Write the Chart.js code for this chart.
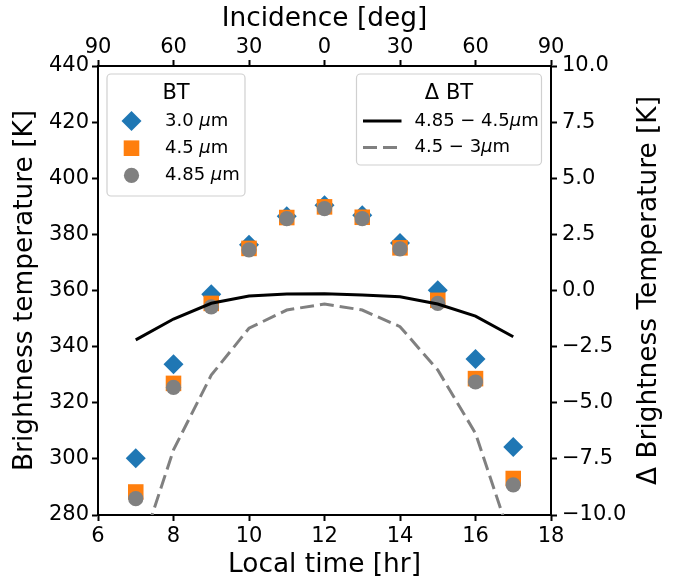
<!DOCTYPE html>
<html>
<head>
<meta charset="utf-8">
<script src="https://cdn.jsdelivr.net/npm/chart.js@4/dist/chart.umd.min.js"></script>
<style>
html,body{margin:0;padding:0;background:#fff;}
#wrap{width:675px;height:583px;position:relative;}
</style>
</head>
<body>
<div id="wrap"><canvas id="c" width="675" height="583"></canvas></div>
<script>
// ---- data ----
const localTime = [7, 8, 9, 10, 11, 12, 13, 14, 15, 16, 17];
const bt30  = [300.2, 333.7, 358.7, 376.3, 386.5, 390.4, 386.8, 376.9, 360.1, 335.6, 304.2];
const bt45  = [288.2, 326.9, 355.4, 375.0, 386.0, 389.8, 386.1, 375.2, 356.5, 328.6, 293.0];
const bt485 = [285.8, 325.5, 354.2, 374.5, 385.6, 389.2, 385.6, 374.8, 355.4, 327.4, 290.7];
const dBT_485_45 = [-2.2, -1.27, -0.57, -0.25, -0.16, -0.15, -0.2, -0.28, -0.6, -1.14, -2.06];
const dBT_45_3   = [-12.2, -7.1, -3.77, -1.68, -0.87, -0.6, -0.87, -1.61, -3.54, -6.36, -11.4];
const xTickValues = [6, 8, 10, 12, 14, 16, 18];
const incidenceLabels = ['90', '60', '30', '0', '30', '60', '90'];
const btLabels = ['3.0 μm', '4.5 μm', '4.85 μm'];
const dbtLabels = ['4.85 − 4.5μm', '4.5 − 3μm'];
const btLegendTitle = 'BT';
const dbtLegendTitle = 'Δ BT';
const leftTitle = 'Brightness temperature [K]';
const rightTitle = 'Δ Brightness Temperature [K]';
const bottomTitle = 'Local time [hr]';
const topTitle = 'Incidence [deg]';

const FONT = "'DejaVu Sans', sans-serif";
const toXY = (ys) => localTime.map((x, i) => ({x: x, y: ys[i]}));

function axisGrid() {
  return {display: true, drawOnChartArea: false, drawTicks: true, tickLength: 6,
          tickWidth: 2, tickColor: '#000', color: '#000'};
}
const border = {display: true, color: '#000', width: 2};

function drawMarker(ctx, style, x, y, size, color) {
  ctx.save();
  ctx.fillStyle = color;
  ctx.beginPath();
  if (style === 'diamond') {
    ctx.moveTo(x, y - size); ctx.lineTo(x + size, y); ctx.lineTo(x, y + size); ctx.lineTo(x - size, y);
    ctx.closePath();
  } else if (style === 'square') {
    ctx.rect(x - size, y - size, 2 * size, 2 * size);
  } else {
    ctx.arc(x, y, size, 0, Math.PI * 2);
  }
  ctx.fill();
  ctx.restore();
}

function drawRich(ctx, text, x, y, size) {
  const parts = text.split('μ');
  let cx = x;
  ctx.textBaseline = 'middle';
  ctx.textAlign = 'left';
  ctx.fillStyle = '#000';
  parts.forEach((p, i) => {
    if (i > 0) {
      ctx.font = `italic ${size}px ${FONT}`;
      ctx.fillText('μ', cx, y);
      cx += ctx.measureText('μ').width;
    }
    ctx.font = `${size}px ${FONT}`;
    ctx.fillText(p, cx, y);
    cx += ctx.measureText(p).width;
  });
}

function roundBox(ctx, x, y, w, h, r) {
  ctx.beginPath();
  ctx.moveTo(x + r, y);
  ctx.lineTo(x + w - r, y); ctx.arcTo(x + w, y, x + w, y + r, r);
  ctx.lineTo(x + w, y + h - r); ctx.arcTo(x + w, y + h, x + w - r, y + h, r);
  ctx.lineTo(x + r, y + h); ctx.arcTo(x, y + h, x, y + h - r, r);
  ctx.lineTo(x, y + r); ctx.arcTo(x, y, x + r, y, r);
  ctx.closePath();
  ctx.fillStyle = 'rgba(255,255,255,0.8)';
  ctx.fill();
  ctx.strokeStyle = '#d0d0d0';
  ctx.lineWidth = 1.2;
  ctx.stroke();
}

const extrasPlugin = {
  id: 'extras',
  afterDraw(chart) {
    const ctx = chart.ctx;
    const ca = chart.chartArea;
    const ds = chart.data.datasets;
    ctx.save();
    // BT legend
    const bx = ca.left + 9, by = ca.top + 8, bw = 138, bh = 122;
    roundBox(ctx, bx, by, bw, bh, 4);
    ctx.fillStyle = '#000';
    ctx.font = `21px ${FONT}`;
    ctx.textAlign = 'center'; ctx.textBaseline = 'middle';
    ctx.fillText(btLegendTitle, bx + bw / 2, by + 20);
    const mk = [['diamond', 10], ['square', 7.8], ['circle', 7.6]];
    for (let i = 0; i < 3; i++) {
      const yy = by + 47 + i * 27.2;
      drawMarker(ctx, mk[i][0], bx + 24.5, yy, mk[i][1], ds[i].backgroundColor);
      drawRich(ctx, btLabels[i], bx + 58, yy, 18);
    }
    // dBT legend
    const dw = 185, dh = 91;
    const dx = ca.right - 9.5 - dw, dy = ca.top + 8;
    roundBox(ctx, dx, dy, dw, dh, 4);
    ctx.fillStyle = '#000';
    ctx.font = `21px ${FONT}`;
    ctx.textAlign = 'center'; ctx.textBaseline = 'middle';
    ctx.fillText(dbtLegendTitle, dx + dw / 2, dy + 20);
    for (let i = 0; i < 2; i++) {
      const yy = dy + 47 + i * 26.6;
      const d = ds[3 + i];
      ctx.save();
      ctx.strokeStyle = d.borderColor;
      ctx.lineWidth = d.borderWidth;
      ctx.setLineDash(d.borderDash || []);
      ctx.beginPath();
      ctx.moveTo(dx + 6.5, yy); ctx.lineTo(dx + 45, yy);
      ctx.stroke();
      ctx.restore();
      drawRich(ctx, dbtLabels[i], dx + 58, yy, 18);
    }
    // right axis title (reads bottom to top)
    ctx.save();
    ctx.translate(649, (ca.top + ca.bottom) / 2);
    ctx.rotate(-Math.PI / 2);
    ctx.font = `26.4px ${FONT}`;
    ctx.fillStyle = '#000';
    ctx.textAlign = 'center'; ctx.textBaseline = 'middle';
    ctx.fillText(rightTitle, 0, 0);
    ctx.restore();
    ctx.restore();
  }
};

const tickFont = {family: FONT, size: 21};
const titleFont = {family: FONT, size: 26.4};

new Chart(document.getElementById('c'), {
  type: 'scatter',
  data: {
    datasets: [
      {label: btLabels[0], data: toXY(bt30), pointStyle: 'rectRot', pointRadius: 10, pointHoverRadius: 10,
       backgroundColor: '#1f77b4', borderColor: '#1f77b4', borderWidth: 0, showLine: false,
       xAxisID: 'x', yAxisID: 'y', order: 5},
      {label: btLabels[1], data: toXY(bt45), pointStyle: 'rect', pointRadius: 11, pointHoverRadius: 11,
       backgroundColor: '#ff7f0e', borderColor: '#ff7f0e', borderWidth: 0, showLine: false,
       xAxisID: 'x', yAxisID: 'y', order: 4},
      {label: btLabels[2], data: toXY(bt485), pointStyle: 'circle', pointRadius: 7.6, pointHoverRadius: 7.6,
       backgroundColor: '#808080', borderColor: '#808080', borderWidth: 0, showLine: false,
       xAxisID: 'x', yAxisID: 'y', order: 3},
      {label: dbtLabels[0], data: toXY(dBT_485_45), showLine: true, pointRadius: 0, borderColor: '#000',
       backgroundColor: '#000', borderWidth: 3, tension: 0, xAxisID: 'x', yAxisID: 'y2', order: 1, clip: 0},
      {label: dbtLabels[1], data: toXY(dBT_45_3), showLine: true, pointRadius: 0, borderColor: '#808080',
       backgroundColor: '#808080', borderWidth: 3, borderDash: [14, 6], tension: 0,
       xAxisID: 'x', yAxisID: 'y2', order: 2, clip: 0}
    ]
  },
  options: {
    responsive: false,
    animation: false,
    devicePixelRatio: 1,
    layout: {padding: 0},
    plugins: {legend: {display: false}, tooltip: {enabled: false}},
    scales: {
      x: {
        type: 'linear', position: 'bottom', min: 6, max: 18,
        afterBuildTicks: (s) => { s.ticks = xTickValues.map(v => ({value: v})); },
        ticks: {font: tickFont, color: '#000', padding: 3, maxRotation: 0, autoSkip: false},
        grid: axisGrid(), border: border,
        title: {display: true, text: bottomTitle, font: titleFont, color: '#000', padding: {top: 0, bottom: 2}},
        afterFit: (s) => { s.height = 68; }
      },
      x2: {
        type: 'linear', position: 'top', min: 6, max: 18,
        afterBuildTicks: (s) => { s.ticks = xTickValues.map(v => ({value: v})); },
        ticks: {font: tickFont, color: '#000', padding: 0, maxRotation: 0, autoSkip: false,
                callback: (v) => incidenceLabels[xTickValues.indexOf(v)]},
        grid: axisGrid(), border: border,
        title: {display: true, text: topTitle, font: titleFont, color: '#000', padding: {top: 3, bottom: 0}},
        afterFit: (s) => { s.height = 66; }
      },
      y: {
        type: 'linear', position: 'left', min: 280, max: 440,
        ticks: {stepSize: 20, font: tickFont, color: '#000', padding: 3},
        grid: axisGrid(), border: border,
        title: {display: true, text: leftTitle, font: titleFont, color: '#000', padding: {top: 9, bottom: 0}},
        afterFit: (s) => { s.width = 98; }
      },
      y2: {
        type: 'linear', position: 'right', min: -10, max: 10,
        ticks: {stepSize: 2.5, font: tickFont, color: '#000', padding: 5,
                callback: (v) => (v < 0 ? '\u2212' : '') + Math.abs(v).toFixed(1)},
        grid: axisGrid(), border: border,
        afterFit: (s) => { s.width = 124; }
      }
    }
  },
  plugins: [extrasPlugin]
});
</script>
</body>
</html>
